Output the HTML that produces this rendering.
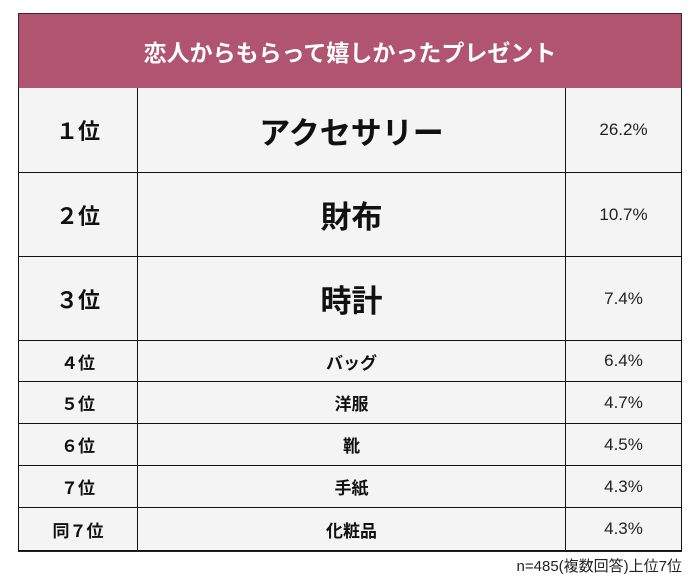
<!DOCTYPE html>
<html><head><meta charset="utf-8"><style>
body{margin:0;width:700px;height:581px;background:#fff;position:relative;font-family:"Liberation Sans","Noto Sans CJK JP",sans-serif;overflow:hidden}
.c{position:absolute;box-sizing:border-box;display:flex;align-items:center;justify-content:center;background:#f4f4f4;border-right:1px solid #111;border-bottom:1px solid #111}
.rk{font-weight:bold;color:#111}
.nm{font-weight:bold;color:#111}
.pc{color:#222;font-size:17px}
</style></head><body>
<div style="position:absolute;left:18px;top:13px;width:664px;height:539px;border:1px solid #222;box-sizing:border-box"></div>
<div style="position:absolute;left:18px;top:13px;width:664px;height:76px;background:#b0546f;border:1px solid #4a2030;border-bottom:1px solid #111;box-sizing:border-box;display:flex;align-items:center;justify-content:center;color:#fff;font-weight:bold;font-size:23px">恋人からもらって嬉しかったプレゼント</div>
<div id="rows"></div>
<div style="position:absolute;right:18px;top:555px;font-size:15px;color:#222">n=485(複数回答)上位7位</div>
<script>
const ranks=["１位","２位","３位","４位","５位","６位","７位","同７位"];
const names=["アクセサリー","財布","時計","バッグ","洋服","靴","手紙","化粧品"];
const pcts=["26.2%","10.7%","7.4%","6.4%","4.7%","4.5%","4.3%","4.3%"];
const tops=[88,173,257,341,382,424,466,508,551];
const rows=document.getElementById('rows');
for(let i=0;i<ranks.length;i++){
 const t=tops[i],h=tops[i+1]-t,big=i<3;
 const cells=[[18,138,ranks[i],'rk',big?22:17,'rank'],[138,566,names[i],'nm',big?31:17,'item'],[566,682,pcts[i],'pc',17,'percent']];
 cells.forEach(c=>{
  const d=document.createElement('div');
  
  
  d.className='c '+c[3];
  d.style.cssText=`left:${c[0]}px;top:${t}px;width:${c[1]-c[0]}px;height:${h}px;font-size:${c[4]}px;`+(c[0]===18?'border-left:1px solid #111;':'');
  d.textContent=c[2];
  rows.appendChild(d);
 });
}
</script>
</body></html>
